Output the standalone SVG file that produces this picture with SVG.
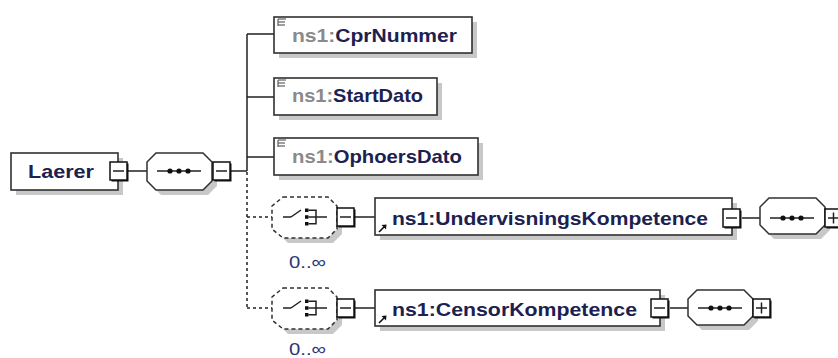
<svg xmlns="http://www.w3.org/2000/svg" width="838" height="358" viewBox="0 0 838 358">
<defs>
<style>
.bg{fill:#ffffff}
.box{fill:#ffffff;stroke:#303030;stroke-width:1.6}
.shd{fill:#c8c8c8;stroke:none}
.ln{fill:none;stroke:#202020;stroke-width:1.5}
.dash{fill:none;stroke:#202020;stroke-width:1.5;stroke-dasharray:3,3}
.oct{fill:#ffffff;stroke:#303030;stroke-width:1.5}
.doct{fill:#ffffff;stroke:#303030;stroke-width:1.5;stroke-dasharray:4,3}
.btn{fill:#ffffff;stroke:#101010;stroke-width:1.5}
.bsh{fill:#101010}
.ns{font-family:"Liberation Sans",Arial,sans-serif;font-weight:bold;font-size:18.5px;fill:#8a8a8a}
.nm{font-family:"Liberation Sans",Arial,sans-serif;font-weight:bold;font-size:18.5px;fill:#1c2150}
.occ{font-family:"Liberation Sans",Arial,sans-serif;font-size:17px;fill:#2a3578}
.ico{fill:none;stroke:#606060;stroke-width:1.2}
.dot{fill:#101010}
</style>
<g id="seqsym">
<line class="ln" x1="-22" y1="0" x2="22" y2="0"/>
<circle class="dot" cx="-9" cy="0" r="2.6"/>
<circle class="dot" cx="0" cy="0" r="2.6"/>
<circle class="dot" cx="9" cy="0" r="2.6"/>
</g>
<g id="chsym">
<line class="ln" x1="-22" y1="0" x2="-14" y2="0"/>
<line class="ln" x1="-14" y1="0" x2="-4" y2="-7"/>
<rect class="dot" x="0" y="-8.5" width="3.5" height="3.5"/>
<rect class="dot" x="0" y="-1.75" width="3.5" height="3.5"/>
<rect class="dot" x="0" y="5" width="3.5" height="3.5"/>
<polyline class="ln" points="3.5,-6.8 11,-6.8 11,6.8 3.5,6.8"/>
<line class="ln" x1="3.5" y1="0" x2="22" y2="0"/>
</g>
<g id="minus">
<rect class="bsh" x="1.5" y="1.5" width="17" height="18"/>
<rect class="btn" x="0" y="0" width="17" height="18"/>
<line class="ln" x1="3" y1="9" x2="14" y2="9"/>
</g>
<g id="plus">
<rect class="bsh" x="1.5" y="1.5" width="17" height="18"/>
<rect class="btn" x="0" y="0" width="17" height="18"/>
<line class="ln" x1="3" y1="9" x2="14" y2="9"/>
<line class="ln" x1="8.5" y1="3.5" x2="8.5" y2="14.5"/>
</g>
<g id="elico">
<line class="ico" x1="278" y1="0" x2="286" y2="0"/>
<line class="ico" x1="278" y1="3" x2="285" y2="3"/>
<line class="ico" x1="278" y1="6" x2="285" y2="6"/>
<line class="ico" x1="278" y1="0" x2="278" y2="7"/>
</g>
<g id="refico">
<line x1="0" y1="0" x2="6" y2="-6" stroke="#101010" stroke-width="1.6"/>
<polygon points="7.5,-7.5 2.5,-7 7,-2.5" fill="#101010"/>
</g>
</defs>
<rect class="bg" x="0" y="0" width="838" height="358"/>

<g id="connectors">
<line class="ln" x1="126" y1="171" x2="147" y2="171"/>
<line class="ln" x1="230" y1="171" x2="247" y2="171"/>
<line class="ln" x1="247" y1="34" x2="247" y2="171"/>
<line class="ln" x1="247" y1="34" x2="274" y2="34"/>
<line class="ln" x1="247" y1="97" x2="274" y2="97"/>
<line class="ln" x1="247" y1="157" x2="274" y2="157"/>
<line class="dash" x1="247" y1="172" x2="247" y2="308"/>
<line class="dash" x1="247" y1="217" x2="272" y2="217"/>
<line class="dash" x1="247" y1="308" x2="272" y2="308"/>
<line class="ln" x1="355" y1="217" x2="375" y2="217"/>
<line class="ln" x1="355" y1="308" x2="375" y2="308"/>
<line class="ln" x1="742" y1="218" x2="760" y2="218"/>
<line class="ln" x1="670" y1="308" x2="688" y2="308"/>
</g>

<g id="node-Laerer">
<rect class="shd" x="16" y="158" width="107" height="37"/>
<rect class="box" x="11" y="153" width="107" height="37"/>
<text class="nm" x="28" y="178" textLength="66" lengthAdjust="spacingAndGlyphs">Laerer</text>
<use href="#minus" x="110" y="162"/>
</g>

<g id="node-seq1">
<path class="shd" d="M161,158 L208,158 L217,167 L217,186 L208,195 L161,195 L152,186 L152,167 Z"/>
<path class="oct" d="M156,153 L203,153 L212,162 L212,181 L203,190 L156,190 L147,181 L147,162 Z"/>
<use href="#seqsym" x="179" y="171"/>
<use href="#minus" x="213" y="162"/>
</g>

<g id="node-CprNummer">
<rect class="shd" x="279" y="22" width="198" height="36"/>
<rect class="box" x="274" y="17" width="198" height="36"/>
<use href="#elico" y="19"/>
<text x="292" y="42" textLength="165" lengthAdjust="spacingAndGlyphs"><tspan class="ns">ns1:</tspan><tspan class="nm">CprNummer</tspan></text>
</g>

<g id="node-StartDato">
<rect class="shd" x="279" y="83" width="163" height="37"/>
<rect class="box" x="274" y="78" width="163" height="37"/>
<use href="#elico" y="80"/>
<text x="292" y="102" textLength="131" lengthAdjust="spacingAndGlyphs"><tspan class="ns">ns1:</tspan><tspan class="nm">StartDato</tspan></text>
</g>

<g id="node-OphoersDato">
<rect class="shd" x="279" y="143" width="204" height="37"/>
<rect class="box" x="274" y="138" width="204" height="37"/>
<use href="#elico" y="140"/>
<text x="292" y="163" textLength="170" lengthAdjust="spacingAndGlyphs"><tspan class="ns">ns1:</tspan><tspan class="nm">OphoersDato</tspan></text>
</g>

<g id="node-choice1">
<path class="shd" d="M288,202 L333,202 L342,211 L342,234 L333,243 L288,243 L279,234 L279,211 Z"/>
<path class="doct" d="M283,197 L328,197 L337,206 L337,229 L328,238 L283,238 L272,229 L272,206 Z"/>
<use href="#chsym" x="305" y="217"/>
<use href="#minus" x="337" y="208"/>
<text class="occ" x="289" y="268" textLength="37" lengthAdjust="spacingAndGlyphs">0..∞</text>
</g>

<g id="node-UndervisningsKompetence">
<rect class="shd" x="380" y="203" width="357" height="37"/>
<rect class="box" x="375" y="198" width="357" height="37"/>
<use href="#refico" x="379" y="232"/>
<text class="nm" x="392" y="225" textLength="316" lengthAdjust="spacingAndGlyphs">ns1:UndervisningsKompetence</text>
<use href="#minus" x="723" y="209"/>
</g>

<g id="node-seq2">
<path class="shd" d="M774,203 L821,203 L830,212 L830,230 L821,239 L774,239 L765,230 L765,212 Z"/>
<path class="oct" d="M769,198 L816,198 L825,207 L825,225 L816,234 L769,234 L760,225 L760,207 Z"/>
<use href="#seqsym" x="792" y="218"/>
<use href="#plus" x="825" y="209"/>
</g>

<g id="node-choice2">
<path class="shd" d="M288,293 L333,293 L342,302 L342,325 L333,334 L288,334 L279,325 L279,302 Z"/>
<path class="doct" d="M283,288 L328,288 L337,297 L337,320 L328,329 L283,329 L272,320 L272,297 Z"/>
<use href="#chsym" x="305" y="308"/>
<use href="#minus" x="337" y="299"/>
<text class="occ" x="289" y="355" textLength="37" lengthAdjust="spacingAndGlyphs">0..∞</text>
</g>

<g id="node-CensorKompetence">
<rect class="shd" x="380" y="295" width="285" height="36"/>
<rect class="box" x="375" y="290" width="285" height="36"/>
<use href="#refico" x="379" y="323"/>
<text class="nm" x="392" y="316" textLength="245" lengthAdjust="spacingAndGlyphs">ns1:CensorKompetence</text>
<use href="#minus" x="651" y="299"/>
</g>

<g id="node-seq3">
<path class="shd" d="M702,295 L749,295 L758,304 L758,321 L749,330 L702,330 L693,321 L693,304 Z"/>
<path class="oct" d="M697,290 L744,290 L753,299 L753,316 L744,325 L697,325 L688,316 L688,299 Z"/>
<use href="#seqsym" x="720" y="308"/>
<use href="#plus" x="753" y="299"/>
</g>
</svg>
